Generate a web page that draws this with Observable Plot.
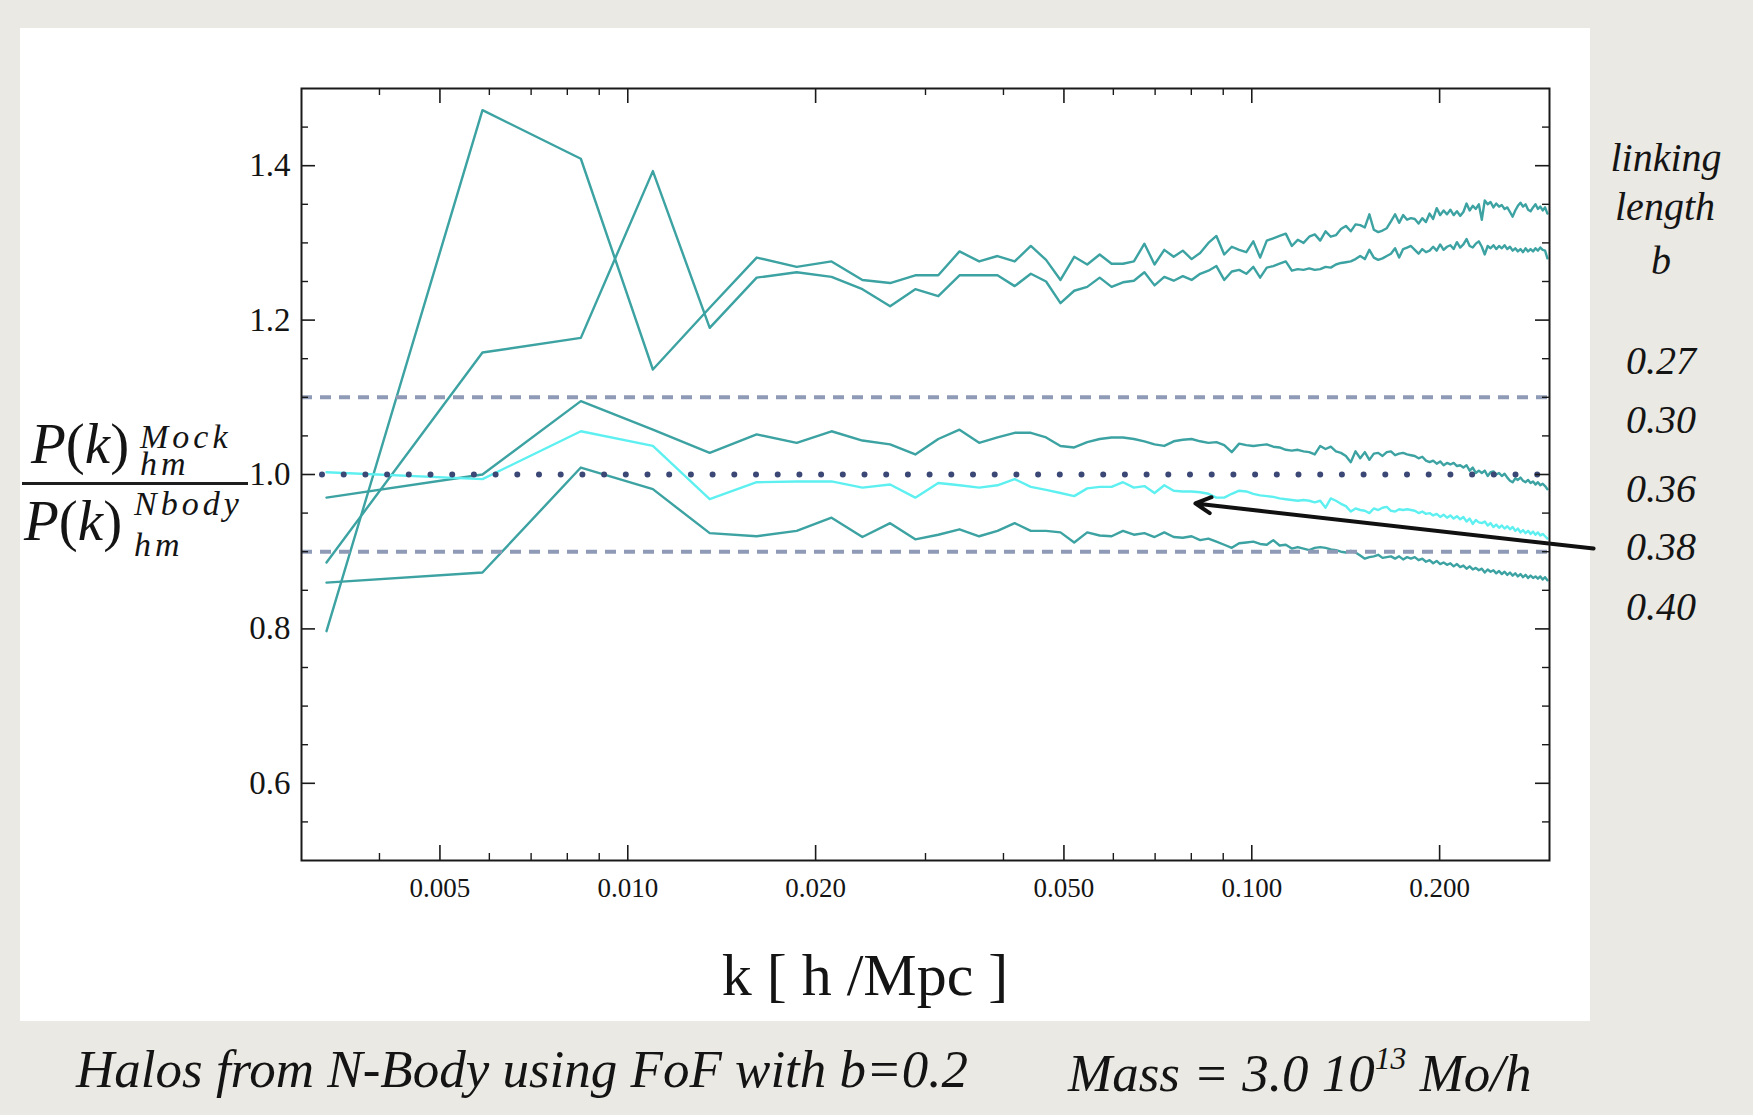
<!DOCTYPE html>
<html>
<head>
<meta charset="utf-8">
<script src="https://cdn.jsdelivr.net/npm/d3@7"></script>
<script src="https://cdn.jsdelivr.net/npm/@observablehq/plot@0.6"></script>
<style>
  html, body { margin: 0; padding: 0; background: #ebe9e3; }
  #page { position: relative; width: 1753px; height: 1115px; overflow: hidden; background: #ebe9e3; }
  #panel { position: absolute; left: 20px; top: 28px; width: 1570px; height: 993px; background: #ffffff; }
  #chart { position: absolute; left: 0; top: 0; }
  .t { position: absolute; white-space: nowrap; color: #141414;
       font-family: "Liberation Serif", "Times New Roman", serif; }
  .it { font-style: italic; }
</style>
</head>
<body>
<div id="page">
  <div id="panel"></div>
  <div id="chart"></div>
</div>
<script>
// Wavenumber bins k [h/Mpc]
const kValues = [
  0.00329, 0.00585, 0.00841, 0.01097, 0.01353, 0.01609, 0.01865, 0.02121, 0.02377, 0.02633,
  0.02889, 0.03145, 0.03401, 0.03657, 0.03913, 0.04169, 0.04425, 0.04681, 0.04937, 0.05193,
  0.05449, 0.05705, 0.05961, 0.06217, 0.06473, 0.06729, 0.06985, 0.07241, 0.07497, 0.07753,
  0.08009, 0.08265, 0.08521, 0.08777, 0.09033, 0.09289, 0.09545, 0.09801, 0.10057, 0.10313,
  0.10569, 0.10825, 0.11081, 0.11337, 0.11593, 0.11849, 0.12105, 0.12361, 0.12617, 0.12873,
  0.13129, 0.13385, 0.13641, 0.13897, 0.14153, 0.14409, 0.14665, 0.14921, 0.15177, 0.15433,
  0.15689, 0.15945, 0.16201, 0.16457, 0.16713, 0.16969, 0.17225, 0.17481, 0.17737, 0.17993,
  0.18249, 0.18505, 0.18761, 0.19017, 0.19273, 0.19529, 0.19785, 0.20041, 0.20297, 0.20553,
  0.20809, 0.21065, 0.21321, 0.21577, 0.21833, 0.22089, 0.22345, 0.22601, 0.22857, 0.23113,
  0.23369, 0.23625, 0.23881, 0.24137, 0.24393, 0.24649, 0.24905, 0.25161, 0.25417, 0.25673,
  0.25929, 0.26185, 0.26441, 0.26697, 0.26953, 0.27209, 0.27465, 0.27721, 0.27977, 0.28233,
  0.28489, 0.28745, 0.29001, 0.29257, 0.29513, 0.29769
];

// Ratio P(k)_hm^Mock / P(k)_hm^Nbody for each linking length b
const ratioB027 = [
  0.797, 1.472, 1.409, 1.136, 1.216, 1.281, 1.269, 1.276, 1.252, 1.248,
  1.258, 1.258, 1.289, 1.276, 1.283, 1.276, 1.296, 1.278, 1.252, 1.282,
  1.272, 1.285, 1.273, 1.273, 1.276, 1.299, 1.272, 1.291, 1.282, 1.290,
  1.279, 1.287, 1.300, 1.309, 1.285, 1.295, 1.291, 1.288, 1.302, 1.281,
  1.303, 1.306, 1.309, 1.312, 1.296, 1.304, 1.300, 1.308, 1.311, 1.303,
  1.315, 1.308, 1.310, 1.318, 1.322, 1.315, 1.324, 1.323, 1.320, 1.337,
  1.317, 1.314, 1.316, 1.319, 1.328, 1.337, 1.326, 1.336, 1.330, 1.332,
  1.331, 1.325, 1.332, 1.327, 1.338, 1.331, 1.345, 1.336, 1.342, 1.337,
  1.343, 1.336, 1.341, 1.335, 1.340, 1.351, 1.342, 1.348, 1.344, 1.350,
  1.330, 1.355, 1.350, 1.353, 1.346, 1.351, 1.347, 1.349, 1.344, 1.346,
  1.340, 1.334, 1.342, 1.348, 1.352, 1.347, 1.350, 1.343, 1.341, 1.346,
  1.350, 1.344, 1.347, 1.342, 1.346, 1.338
];
const ratioB030 = [
  0.886, 1.158, 1.177, 1.393, 1.190, 1.255, 1.262, 1.256, 1.240, 1.218,
  1.240, 1.231, 1.258, 1.258, 1.258, 1.244, 1.260, 1.250, 1.222, 1.238,
  1.243, 1.255, 1.243, 1.249, 1.251, 1.262, 1.245, 1.256, 1.251, 1.257,
  1.252, 1.260, 1.264, 1.270, 1.252, 1.263, 1.265, 1.260, 1.269, 1.255,
  1.268, 1.270, 1.273, 1.276, 1.264, 1.266, 1.265, 1.267, 1.265, 1.266,
  1.269, 1.268, 1.272, 1.274, 1.275, 1.276, 1.279, 1.283, 1.279, 1.291,
  1.281, 1.278, 1.280, 1.283, 1.286, 1.293, 1.281, 1.292, 1.294, 1.296,
  1.291, 1.286, 1.292, 1.288, 1.290, 1.295, 1.290, 1.298, 1.291, 1.295,
  1.297, 1.292, 1.301, 1.294, 1.298, 1.305, 1.296, 1.294, 1.299, 1.302,
  1.295, 1.285, 1.296, 1.293, 1.297, 1.292, 1.296, 1.293, 1.297, 1.292,
  1.295, 1.290, 1.293, 1.289, 1.292, 1.288, 1.293, 1.289, 1.292, 1.289,
  1.293, 1.290, 1.294, 1.291, 1.290, 1.280
];
const ratioB036 = [
  0.970, 1.000, 1.095, 1.058, 1.028, 1.052, 1.041, 1.056, 1.044, 1.039,
  1.026, 1.046, 1.058, 1.041, 1.048, 1.054, 1.054, 1.048, 1.037, 1.035,
  1.042, 1.046, 1.048, 1.048, 1.046, 1.043, 1.039, 1.037, 1.043, 1.045,
  1.046, 1.043, 1.041, 1.042, 1.038, 1.029, 1.040, 1.038, 1.037, 1.038,
  1.039, 1.036, 1.035, 1.032, 1.031, 1.032, 1.030, 1.029, 1.026, 1.037,
  1.033, 1.036, 1.030, 1.028, 1.024, 1.016, 1.030, 1.021, 1.029, 1.019,
  1.027, 1.028, 1.024, 1.029, 1.030, 1.025, 1.027, 1.028, 1.026, 1.025,
  1.024, 1.021, 1.023, 1.018, 1.016, 1.018, 1.014, 1.017, 1.012, 1.015,
  1.013, 1.015, 1.011, 1.012, 1.009, 1.012, 1.005, 1.009, 1.002, 1.005,
  1.002, 1.005, 0.998, 1.003, 1.004, 1.000, 1.002, 0.998, 1.001, 0.996,
  0.992, 0.990, 0.995, 0.993, 0.996, 0.992, 0.990, 0.993, 0.989, 0.991,
  0.987, 0.990, 0.986, 0.988, 0.985, 0.981
];
const ratioB038 = [
  1.003, 0.994, 1.056, 1.037, 0.968, 0.990, 0.991, 0.991, 0.983, 0.987,
  0.970, 0.989, 0.986, 0.983, 0.986, 0.994, 0.984, 0.980, 0.976, 0.972,
  0.982, 0.984, 0.984, 0.990, 0.983, 0.985, 0.976, 0.986, 0.979, 0.978,
  0.978, 0.977, 0.975, 0.970, 0.970, 0.975, 0.979, 0.978, 0.975, 0.973,
  0.972, 0.971, 0.969, 0.968, 0.967, 0.966, 0.967, 0.966, 0.964, 0.966,
  0.957, 0.969, 0.966, 0.962, 0.959, 0.952, 0.956, 0.954, 0.953, 0.950,
  0.956, 0.954, 0.957, 0.958, 0.953, 0.952, 0.955, 0.954, 0.955, 0.954,
  0.953, 0.950, 0.952, 0.949, 0.950, 0.947, 0.949, 0.945, 0.948, 0.944,
  0.947, 0.943, 0.946, 0.942, 0.945, 0.939, 0.943, 0.936, 0.941, 0.938,
  0.937, 0.939, 0.934, 0.937, 0.932, 0.935, 0.931, 0.934, 0.930, 0.933,
  0.929, 0.932, 0.927, 0.930, 0.925, 0.928, 0.924, 0.927, 0.923, 0.926,
  0.922, 0.925, 0.921, 0.923, 0.920, 0.917
];
const ratioB040 = [
  0.860, 0.873, 1.009, 0.981, 0.924, 0.920, 0.927, 0.944, 0.919, 0.937,
  0.916, 0.922, 0.929, 0.920, 0.927, 0.937, 0.927, 0.927, 0.925, 0.912,
  0.925, 0.921, 0.920, 0.927, 0.922, 0.924, 0.919, 0.925, 0.919, 0.918,
  0.920, 0.915, 0.917, 0.913, 0.909, 0.905, 0.911, 0.912, 0.913, 0.910,
  0.909, 0.915, 0.908, 0.909, 0.904, 0.906, 0.904, 0.902, 0.905, 0.906,
  0.905, 0.903, 0.902, 0.900, 0.899, 0.901, 0.899, 0.895, 0.891, 0.893,
  0.894, 0.896, 0.892, 0.893, 0.894, 0.891, 0.894, 0.890, 0.893, 0.891,
  0.893, 0.889, 0.891, 0.887, 0.889, 0.885, 0.888, 0.884, 0.886, 0.883,
  0.885, 0.881, 0.884, 0.880, 0.882, 0.878, 0.881, 0.877, 0.879, 0.876,
  0.878, 0.873, 0.877, 0.874, 0.876, 0.872, 0.875, 0.871, 0.874, 0.870,
  0.873, 0.869, 0.872, 0.868, 0.871, 0.867, 0.870, 0.866, 0.869, 0.866,
  0.868, 0.865, 0.868, 0.864, 0.867, 0.863
];

const linkingLengths = ["0.27", "0.30", "0.36", "0.38", "0.40"];
const seriesValues = [ratioB027, ratioB030, ratioB036, ratioB038, ratioB040];
const seriesColors = ["#3ca2a2", "#3ca2a2", "#3ca2a2", "#5ef0f0", "#3ca2a2"];

// Tolerance band and unity reference
const bandLevels = [1.1, 0.9];
const unityLevel = [1.0];

// Axis ticks
const xMajorTicks = [0.005, 0.01, 0.02, 0.05, 0.1, 0.2];
const xMinorTicks = [0.004, 0.006, 0.007, 0.008, 0.009, 0.03, 0.04, 0.06, 0.07, 0.08, 0.09];
const yMajorTicks = [0.6, 0.8, 1.0, 1.2, 1.4];
const yMinorTicks = [0.55, 0.65, 0.7, 0.75, 0.85, 0.9, 0.95, 1.05, 1.1, 1.15, 1.25, 1.3, 1.35, 1.45];

// Arrow pointing at the b = 0.38 curve (tail to the right of the frame)
const arrowNote = { kTail: 0.353, rTail: 0.904, kTip: 0.0812, rTip: 0.9625 };

const rows = linkingLengths.map((b, s) =>
  kValues.map((k, i) => ({ b, k, r: seriesValues[s][i] }))
);

const W = 1753, H = 1000;
const mL = 301, mR = 204, mT = 88, mB = 140;
const innerW = W - mL - mR, innerH = H - mT - mB;
const tickColor = "#1a1a1a";

const plot = Plot.plot({
  width: W,
  height: H,
  marginLeft: mL,
  marginRight: mR,
  marginTop: mT,
  marginBottom: mB,
  style: { background: "transparent", fontFamily: "'Liberation Serif', 'Times New Roman', serif", color: "#141414" },
  x: { type: "log", domain: [0.003, 0.3] },
  y: { domain: [0.5, 1.5] },
  marks: [
    ...rows.map((data, s) =>
      Plot.line(data, { x: "k", y: "r", stroke: seriesColors[s], strokeWidth: 2.4 })
    ),
    // dashed ±10% band
    Plot.ruleY(bandLevels, { stroke: "#8f9bb6", strokeWidth: 4, strokeDasharray: "11,8" }),
    // dotted unity line
    Plot.ruleY(unityLevel, { stroke: "#3b4775", strokeWidth: 6, strokeDasharray: "0,21.7", strokeLinecap: "round", strokeDashoffset: -21 }),
    Plot.arrow([arrowNote], {
      x1: "kTail", y1: "rTail", x2: "kTip", y2: "rTip",
      stroke: "#111", strokeWidth: 4, headLength: 6.5, headAngle: 55
    }),
    // inward frame ticks on all four sides
    Plot.ruleX(xMajorTicks, { stroke: tickColor, strokeWidth: 1.6, insetTop: innerH - 15 }),
    Plot.ruleX(xMajorTicks, { stroke: tickColor, strokeWidth: 1.6, insetBottom: innerH - 15 }),
    Plot.ruleX(xMinorTicks, { stroke: tickColor, strokeWidth: 1.4, insetTop: innerH - 7 }),
    Plot.ruleX(xMinorTicks, { stroke: tickColor, strokeWidth: 1.4, insetBottom: innerH - 7 }),
    Plot.ruleY(yMajorTicks, { stroke: tickColor, strokeWidth: 1.6, insetRight: innerW - 14 }),
    Plot.ruleY(yMajorTicks, { stroke: tickColor, strokeWidth: 1.6, insetLeft: innerW - 14 }),
    Plot.ruleY(yMinorTicks, { stroke: tickColor, strokeWidth: 1.4, insetRight: innerW - 7 }),
    Plot.ruleY(yMinorTicks, { stroke: tickColor, strokeWidth: 1.4, insetLeft: innerW - 7 }),
    Plot.frame({ stroke: "#1a1a1a", strokeWidth: 2 }),
    Plot.axisX(xMajorTicks, { tickSize: 0, tickPadding: 17, fontSize: 27, tickFormat: d3.format(".3f"), label: null }),
    Plot.axisY(yMajorTicks, { tickSize: 0, tickPadding: 11, fontSize: 33, tickFormat: d3.format(".1f"), label: null })
  ]
});
document.getElementById("chart").appendChild(plot);

// Text placed by the baseline of its first line; for Liberation Serif that
// baseline sits (lineHeight/2 + 0.3375) em below the top of the line box.
const page = document.getElementById("page");
function put(html, x, baseline, size, opts = {}) {
  const lh = opts.lineHeight || 1;
  const el = document.createElement("div");
  el.className = "t" + (opts.italic ? " it" : "");
  el.innerHTML = html;
  el.style.fontSize = size + "px";
  el.style.lineHeight = lh;
  el.style.top = (baseline - (lh / 2 + 0.3375) * size) + "px";
  el.style.left = x + "px";
  if (opts.center) el.style.transform = "translateX(-50%)";
  if (opts.spacing) el.style.letterSpacing = opts.spacing + "px";
  page.appendChild(el);
  return el;
}

// y-axis label: P(k)_hm^Mock / P(k)_hm^Nbody (each super/subscript pair set as one block)
put("<i>P</i>(<i>k</i>)", 31, 463, 57, { lineHeight: 0.9 });
put("Mock<br>hm", 140, 448, 34, { italic: true, spacing: 4, lineHeight: 0.8 });
const bar = document.createElement("div");
bar.style.cssText = "position:absolute;left:22px;top:482px;width:226px;height:2.5px;background:#1e1e1e;";
page.appendChild(bar);
put("<i>P</i>(<i>k</i>)", 24, 540, 57, { lineHeight: 0.9 });
put("Nbody<br>hm", 134, 516, 34, { italic: true, spacing: 4, lineHeight: 1.18 });

// x-axis title
put("k [ h /Mpc ]", 865, 995, 60, { center: true });

// legend: linking length b
put("linking", 1666, 171, 40, { italic: true, center: true });
put("length", 1665, 220, 40, { italic: true, center: true });
put("b", 1661, 274, 40, { italic: true, center: true });
const legendBaselines = [374, 433, 502, 560, 620];
linkingLengths.forEach((b, i) => put(b, 1661, legendBaselines[i], 40, { italic: true, center: true }));

// caption
put("Halos from N-Body using FoF with b=0.2", 76, 1087, 53, { italic: true });
put("Mass = 3.0 10<span style=\"font-size:0.6em;vertical-align:0.7em\">13</span> Mo/h", 1068, 1087, 53, { italic: true });
</script>
</body>
</html>
